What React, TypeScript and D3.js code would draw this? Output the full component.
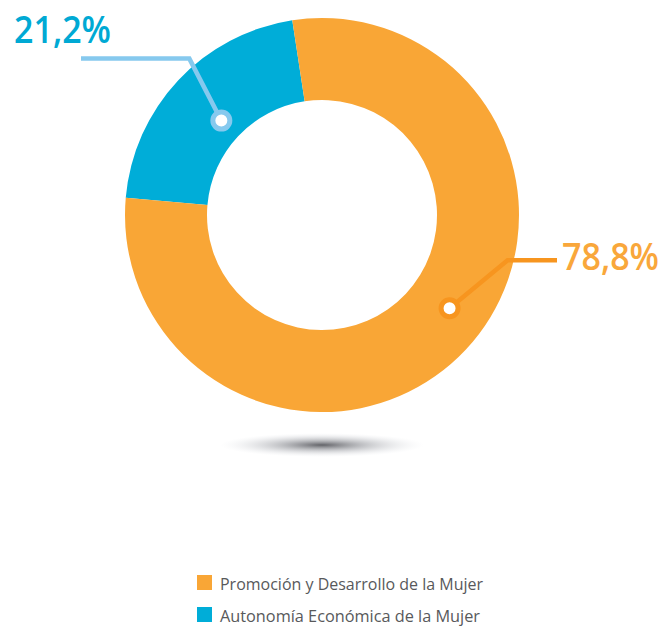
import * as d3 from "d3";

// data
const categories = ["Autonomía Económica de la Mujer", "Promoción y Desarrollo de la Mujer"];
const values = [21.2, 78.8];
const valueLabels = ["21,2%", "78,8%"];
const colors = ["#00ADD8", "#F9A636"];
const textColors = ["#00A9D4", "#F9A73B"];
const lineColors = ["#86C9EE", "#F7951F"];
const legendOrder = [1, 0];

const W = 668;
const H = 633;
const cx = 322;
const cy = 215;
const outerR = 197;
const innerR = 115;

export default function App() {
  const pie = d3
    .pie<number>()
    .sort(null)
    .value((d) => d)
    .startAngle((-85 * Math.PI) / 180)
    .endAngle((275 * Math.PI) / 180);
  const arcs = pie(values);
  const arc = d3.arc<d3.PieArcDatum<number>>().innerRadius(innerR).outerRadius(outerR);

  // leader dots, placed on the slice's middle angle
  const dotR = [138, 158];
  const dotShift = [0, -7 * Math.PI / 180];
  const dots = arcs.map((a, i) => {
    const ang = (a.startAngle + a.endAngle) / 2 + dotShift[i];
    return [cx + dotR[i] * Math.sin(ang), cy - dotR[i] * Math.cos(ang)];
  });

  const leaders = [
    { elbow: [dots[0][0] - 32, dots[0][1] - 62], end: [81, dots[0][1] - 62], tx: 14, ty: 43, anchor: "start" },
    { elbow: [dots[1][0] + 58, dots[1][1] - 48], end: [557, dots[1][1] - 48], tx: 659, ty: 270, anchor: "end" },
  ];

  const legendY = d3.scaleBand<number>().domain([0, 1]).range([566, 630]);

  return (
    <svg width={W} height={H} style={{ position: "absolute", left: 0, top: 0 }}>
      <defs>
        <radialGradient id="shadow" cx="50%" cy="50%" r="50%">
          <stop offset="0%" stopColor="#5a5b60" stopOpacity={0.95} />
          <stop offset="40%" stopColor="#8e9096" stopOpacity={0.55} />
          <stop offset="100%" stopColor="#dde0e6" stopOpacity={0} />
        </radialGradient>
      </defs>

      <ellipse cx={cx} cy={445} rx={102} ry={12} fill="url(#shadow)" />

      <g transform={`translate(${cx},${cy})`}>
        {arcs.map((a, i) => (
          <path key={i} d={arc(a) || ""} fill={colors[i]} />
        ))}
      </g>

      {leaders.map((l, i) => (
        <g key={i}>
          <polyline
            points={`${dots[i][0]},${dots[i][1]} ${l.elbow[0]},${l.elbow[1]} ${l.end[0]},${l.end[1]}`}
            fill="none"
            stroke={lineColors[i]}
            strokeWidth={4.5}
          />
          <circle cx={dots[i][0]} cy={dots[i][1]} r={8.5} fill="#fff" stroke={lineColors[i]} strokeWidth={5} />
          <text
            x={l.tx}
            y={l.ty}
            textAnchor={l.anchor}
            fill={textColors[i]}
            fontFamily="'Open Sans', sans-serif"
            fontWeight={600}
            fontSize={37}
            textLength={97}
            lengthAdjust="spacingAndGlyphs"
          >
            {valueLabels[i]}
          </text>
        </g>
      ))}

      {legendOrder.map((idx) => {
        const y = legendY(idx === 1 ? 0 : 1)!;
        return (
          <g key={idx} transform={`translate(197,${y + 9})`}>
            <rect x={0} y={0} width={15} height={15} fill={colors[idx]} />
            <text
              x={23}
              y={15}
              fill="#58595b"
              fontFamily="'Open Sans', sans-serif"
              fontSize={17}
              textLength={idx === 1 ? 263 : 260}
              lengthAdjust="spacingAndGlyphs"
            >
              {categories[idx]}
            </text>
          </g>
        );
      })}
    </svg>
  );
}
